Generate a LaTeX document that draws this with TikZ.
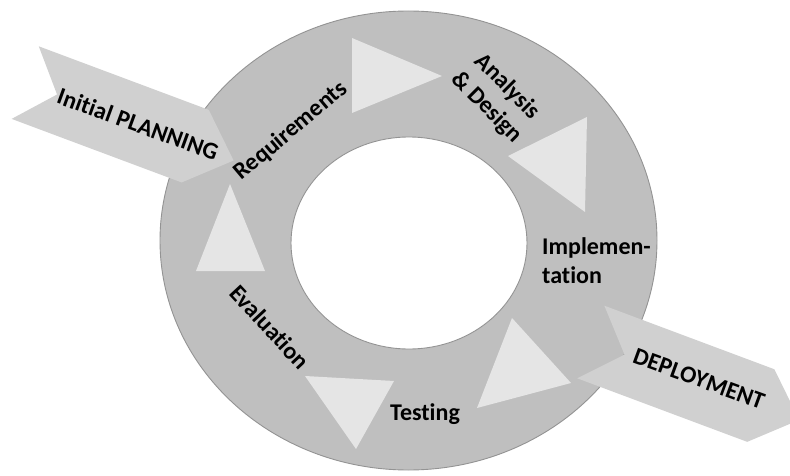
\documentclass[tikz,border=0pt]{standalone}
\usepackage{fontspec}
\setmainfont{Carlito}[Ligatures={NoCommon}]
\begin{document}
\begin{tikzpicture}[x=1pt,y=1pt,
  ringfill/.style={fill=ring},
  rimline/.style={draw=rim,line width=0.9pt},
  pointer/.style={fill=tri},
  banner/.style={fill=band},
  lbl/.style={font=\bfseries\fontsize{24}{29}\selectfont,text=black,inner sep=0pt}
]
\definecolor{ring}{HTML}{BFBFBF}
\definecolor{rim}{HTML}{939393}
\definecolor{tri}{HTML}{E5E5E5}
\definecolor{band}{HTML}{D0D0D0}
\useasboundingbox (0,0) rectangle (790,475);
\clip (0,0) rectangle (790,475);

% cycle ring
\fill[ringfill,even odd rule] (408.5,234.5) ellipse [x radius=248.5,y radius=229.5]
  (409,232) ellipse [x radius=118,y radius=106];
\draw[rimline] (408.5,234.5) ellipse [x radius=248.5,y radius=229.5];
\draw[rimline,fill=white] (409,232) ellipse [x radius=118,y radius=106];

% direction pointers on the ring
\fill[pointer] (352,437) -- (352,362) -- (442,399) -- cycle;
\fill[pointer] (508,319) -- (587,358) -- (585,263) -- cycle;
\fill[pointer] (477,67) -- (512,157) -- (571,92) -- cycle;
\fill[pointer] (305,99) -- (394,94) -- (356,26) -- cycle;
\fill[pointer] (230,291) -- (196,204) -- (265,204) -- cycle;

% entry and exit chevrons
\begin{scope}[shift={(25.2,392.4)},rotate=-20.5]
  \fill[banner] (0,38.75) -- (181.5,38.75) -- (222.5,0) -- (181.5,-38.75)
    -- (0,-38.75) -- (34,0) -- cycle;
\end{scope}
\begin{scope}[shift={(590.8,133)},rotate=-20.5]
  \fill[banner] (0,38.75) -- (181.5,38.75) -- (222.5,0) -- (181.5,-38.75)
    -- (0,-38.75) -- (36,0) -- cycle;
\end{scope}

% phase labels
\node[lbl,rotate=-20] (plan) at (138,351) {Initial PLANNING};
\node[lbl,rotate=40] (req) at (291,344) {Requirements};
\node[lbl,rotate=-45,align=center] (ana) at (497,378) {Analysis\\\& Design};
\node[lbl,align=left,anchor=base west] (impl) at (542,192) {Implemen-\\tation};
\node[lbl,anchor=base west] (test) at (390,55) {Testing};
\node[lbl,rotate=-47] (eval) at (270,148) {Evaluation};
\node[lbl,rotate=-20] (dep) at (699,96) {DEPLOYMENT};
\end{tikzpicture}
\end{document}
